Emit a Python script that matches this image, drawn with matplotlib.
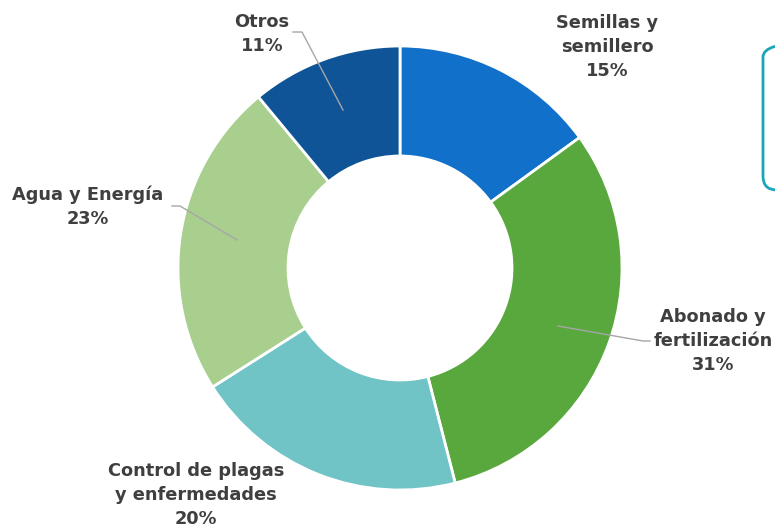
import matplotlib.pyplot as plt
from matplotlib.patches import FancyBboxPatch

# shares of cost, clockwise from the top
categories = ["Semillas y\nsemillero", "Abonado y\nfertilización",
              "Control de plagas\ny enfermedades", "Agua y Energía", "Otros"]
values = [15, 31, 20, 23, 11]
colors = ["#1170C9", "#58A83D", "#70C4C6", "#A9CF8F", "#0F5496"]

W, H = 775, 529

fig = plt.figure(figsize=(W / 100, H / 100), dpi=100)
ax = fig.add_axes([0, 0, 1, 1])

cx, cy = 400, H - 268
ax.pie(values, colors=colors, startangle=90, counterclock=False,
       center=(cx, cy), radius=222,
       wedgeprops=dict(width=110, edgecolor="white", linewidth=2))
ax.set_xlim(0, W)
ax.set_ylim(0, H)
ax.set_aspect("equal")
ax.axis("off")

# label positions in pixel coords (x, y from top)
label_pos = [(607, 47), (713, 341), (196, 495), (88, 207), (262, 34)]
txt_color = "#3F3F3F"
for name, val, (x, y) in zip(categories, values, label_pos):
    ax.text(x, H - y, f"{name}\n{val}%", ha="center", va="center",
            fontsize=12.8, fontweight="bold", color=txt_color,
            linespacing=1.4, family="DejaVu Sans")

# leader lines
line_color = "#A6A6A6"
leaders = [
    [(293, 32), (302, 32), (343, 110)],
    [(172, 206), (180, 206), (237, 240)],
    [(650, 341), (643, 341), (558, 326)],
]
for pts in leaders:
    xs = [p[0] for p in pts]
    ys = [H - p[1] for p in pts]
    ax.plot(xs, ys, color=line_color, lw=1)

# partly visible box on the right
box = FancyBboxPatch((763, H - 190), 60, 147,
                     boxstyle="round,pad=0,rounding_size=14",
                     fill=False, edgecolor="#1AA6B7", lw=2, clip_on=False)
ax.add_patch(box)

fig.savefig("out.png", dpi=100)
